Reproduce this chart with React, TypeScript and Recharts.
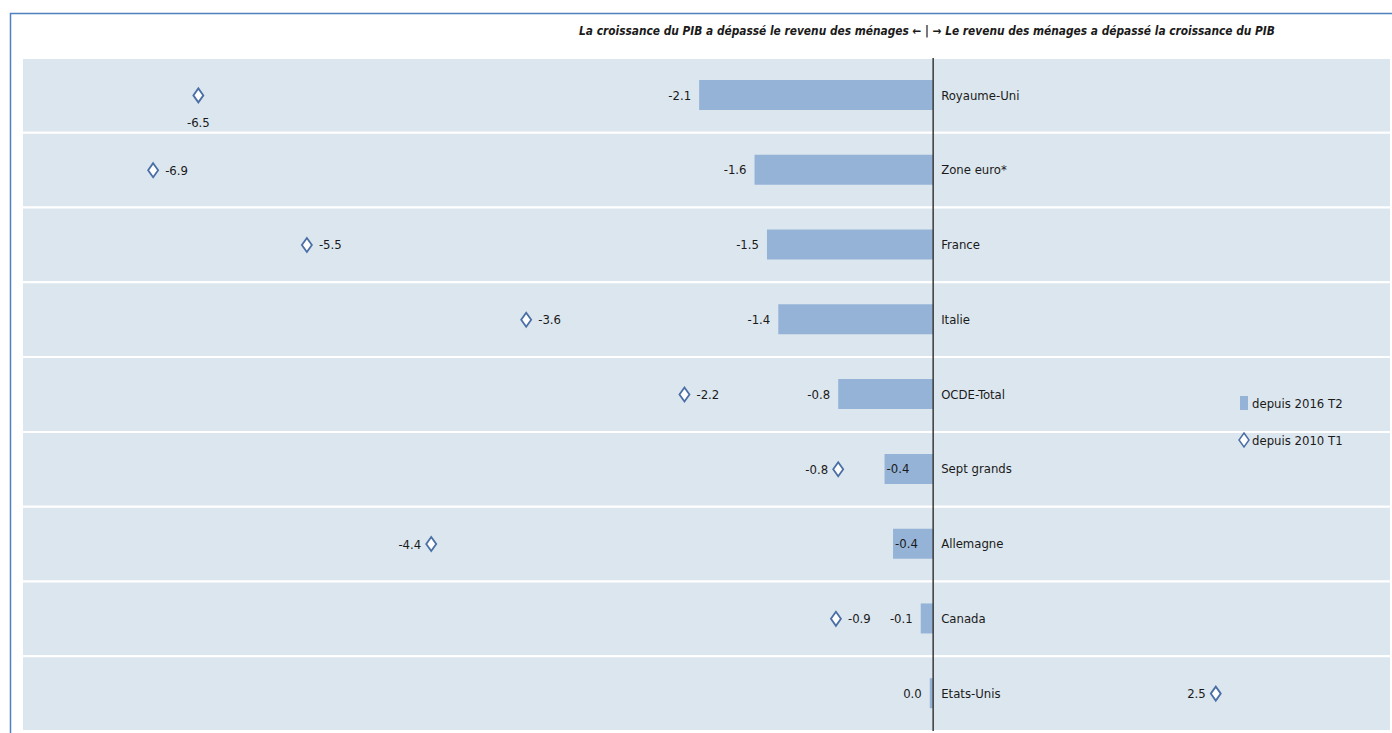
import { ComposedChart, Bar, Line, XAxis, YAxis, ReferenceArea, ReferenceLine, LabelList, Legend } from "recharts"

const countries = ["Royaume-Uni", "Zone euro*", "France", "Italie", "OCDE-Total", "Sept grands", "Allemagne", "Canada", "Etats-Unis"]
const since2016Q2 = [-2.07, -1.58, -1.47, -1.37, -0.84, -0.43, -0.355, -0.11, -0.03]
const since2010Q1 = [-6.5, -6.9, -5.54, -3.6, -2.2, -0.84, -4.44, -0.86, 2.5]
const seriesNames = ["depuis 2016 T2", "depuis 2010 T1"]
const title = "La croissance du PIB a dépassé le revenu des ménages ← | → Le revenu des ménages a dépassé la croissance du PIB"

const data = countries.map((name, i) => ({ name, q2016: since2016Q2[i], q2010: since2010Q1[i] }))

const FONT = "'DejaVu Sans Condensed', 'Liberation Sans Narrow', sans-serif"
const FS = 13
const BAR = "#95b3d7"
const DIAMOND = "#4a6fa5"
const BAND = "#dce6ee"

// a few labels sit on another side of their mark, as in the source
const barLabelInside = ["Sept grands", "Allemagne"]
const diamondLabelSide: Record<string, string> = {
  "Royaume-Uni": "below",
  "Sept grands": "left",
  Allemagne: "left",
  "Etats-Unis": "left",
}

const fmt = (v: number) => (Math.abs(v) < 0.05 ? "0.0" : v.toFixed(1))

function diamondPath(cx: number, cy: number) {
  return `M${cx},${cy - 7} L${cx + 5},${cy} L${cx},${cy + 7} L${cx - 5},${cy} Z`
}

const renderDiamond = (props: any) => {
  const { cx, cy, payload, index } = props
  if (cx == null || cy == null) return <g key={index} />
  const side = diamondLabelSide[payload.name] ?? "right"
  let label
  if (side === "below") {
    label = <text x={cx} y={cy + 27} dy="0.35em" textAnchor="middle">{fmt(payload.q2010)}</text>
  } else if (side === "left") {
    label = <text x={cx - 10} y={cy} dy="0.35em" textAnchor="end">{fmt(payload.q2010)}</text>
  } else {
    label = <text x={cx + 12} y={cy} dy="0.35em" textAnchor="start">{fmt(payload.q2010)}</text>
  }
  return (
    <g key={index} fontFamily={FONT} fontSize={FS} fill="#1a1a1a">
      <path d={diamondPath(cx, cy)} fill="#fff" stroke={DIAMOND} strokeWidth={1.8} />
      {label}
    </g>
  )
}

const renderBarValue = (props: any) => {
  const vb = props.viewBox ?? props
  const { x, y, width, height } = vb
  const value = Number(props.value)
  const left = Math.min(x, x + width)
  const inside = barLabelInside.includes(countries[props.index])
  return (
    <text
      x={inside ? left + 2 : left - 8}
      y={y + height / 2}
      dy="0.35em"
      textAnchor={inside ? "start" : "end"}
      fontFamily={FONT}
      fontSize={FS}
      fill="#1a1a1a"
    >
      {fmt(value)}
    </text>
  )
}

const renderCountry = (props: any) => {
  const vb = props.viewBox ?? props
  const { x, y, width, height } = vb
  const right = Math.max(x, x + width)
  return (
    <text x={right + 8} y={y + height / 2} dy="0.35em" textAnchor="start" fontFamily={FONT} fontSize={FS} fill="#1a1a1a">
      {props.value}
    </text>
  )
}

const renderLegend = () => (
  <svg width={150} height={60} style={{ overflow: "visible" }}>
    <g fontFamily={FONT} fontSize={FS} fill="#1a1a1a">
      <rect x={2} y={4} width={8} height={14} fill={BAR} />
      <text x={14} y={11} dy="0.35em">{seriesNames[0]}</text>
      <path d={diamondPath(6, 48)} fill="#fff" stroke={DIAMOND} strokeWidth={1.5} />
      <text x={14} y={48} dy="0.35em">{seriesNames[1]}</text>
    </g>
  </svg>
)

export default function App() {
  return (
    <div style={{ position: "absolute", left: 0, top: 0, width: 1392, height: 733, background: "#fff" }}>
      <ComposedChart
        width={1392}
        height={733}
        data={data}
        layout="vertical"
        margin={{ top: 58, right: 1, bottom: 2, left: 22 }}
      >
        <XAxis type="number" domain={[-8.06, 4.05]} hide />
        <YAxis type="category" dataKey="name" width={0} axisLine={false} tickLine={false} tick={false} />
        {countries.map((c) => (
          <ReferenceArea key={c} y1={c} y2={c} fill={BAND} fillOpacity={1} stroke="#fff" strokeWidth={2} />
        ))}
        <Legend
          layout="horizontal"
          align="center"
          verticalAlign="middle"
          content={renderLegend}
          wrapperStyle={{ left: 1238, top: 392, width: 150, height: 60 }}
        />
        <Bar dataKey="q2016" name={seriesNames[0]} fill={BAR} barSize={30} isAnimationActive={false}>
          <LabelList dataKey="q2016" content={renderBarValue} />
          <LabelList dataKey="name" content={renderCountry} />
        </Bar>
        <ReferenceLine x={0} stroke="#3a3a3a" strokeWidth={1.5} />
        <Line
          dataKey="q2010"
          name={seriesNames[1]}
          stroke="none"
          strokeWidth={0}
          dot={renderDiamond}
          activeDot={false}
          isAnimationActive={false}
        />
      </ComposedChart>
      <svg width={1392} height={733} style={{ position: "absolute", left: 0, top: 0, pointerEvents: "none" }}>
        <path d="M10.5,733 L10.5,13.5 L1392,13.5" fill="none" stroke="#4f81bd" strokeWidth={1.5} />
        <text
          x={927}
          y={35}
          textAnchor="middle"
          fontFamily={FONT}
          fontSize={11.8}
          fontStyle="italic"
          fontWeight="bold"
          fill="#1a1a1a"
        >
          {title}
        </text>
      </svg>
    </div>
  )
}
